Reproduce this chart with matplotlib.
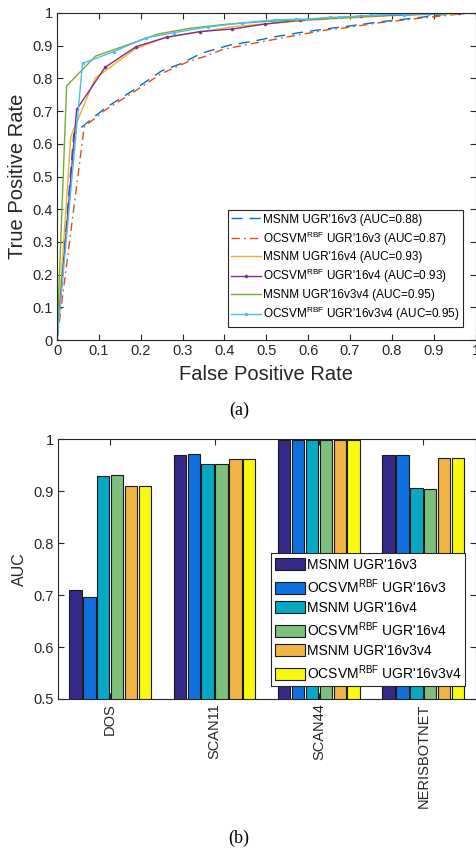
import numpy as np
import matplotlib
matplotlib.use("Agg")
import matplotlib.pyplot as plt

plt.rcParams['font.family'] = ['Liberation Sans', 'DejaVu Sans']
plt.rcParams['mathtext.default'] = 'regular'

# ---- ROC curves (a) ----
msnm_v3_fpr = [0, 0.04, 0.06, 0.115, 0.186, 0.25, 0.298, 0.345, 0.413, 0.461, 0.524, 0.58, 0.652, 0.691, 0.779, 0.858, 0.922, 1.0]
msnm_v3_tpr = [0, 0.63, 0.652, 0.709, 0.767, 0.823, 0.846, 0.877, 0.902, 0.912, 0.928, 0.94, 0.953, 0.959, 0.974, 0.985, 0.995, 1.0]

ocsvm_v3_fpr = [0, 0.065, 0.115, 0.178, 0.25, 0.313, 0.353, 0.397, 0.477, 0.556, 0.652, 0.675, 0.769, 0.874, 0.986, 1.0]
ocsvm_v3_tpr = [0, 0.652, 0.703, 0.754, 0.815, 0.851, 0.867, 0.889, 0.909, 0.928, 0.95, 0.952, 0.97, 0.985, 1.0, 1.0]

msnm_v4_fpr = [0, 0.033, 0.091, 0.186, 0.258, 0.42, 0.6, 0.8, 1.0]
msnm_v4_tpr = [0, 0.622, 0.80, 0.89, 0.925, 0.958, 0.978, 0.992, 1.0]

ocsvm_v4_fpr = [0, 0.047, 0.115, 0.189, 0.262, 0.341, 0.419, 0.496, 0.58, 0.727, 0.96, 1.0]
ocsvm_v4_tpr = [0, 0.705, 0.834, 0.897, 0.926, 0.943, 0.951, 0.966, 0.978, 0.99, 1.0, 1.0]

msnm_v3v4_fpr = [0, 0.023, 0.092, 0.242, 0.317, 0.40, 0.5, 0.675, 0.81, 1.0]
msnm_v3v4_tpr = [0, 0.777, 0.868, 0.936, 0.953, 0.965, 0.974, 0.985, 0.997, 1.0]

ocsvm_v3v4_fpr = [0, 0.061, 0.136, 0.212, 0.28, 0.36, 0.443, 0.52, 0.572, 0.597, 0.652, 0.675, 0.751, 0.828, 0.886, 1.0]
ocsvm_v3v4_tpr = [0, 0.846, 0.882, 0.924, 0.94, 0.957, 0.970, 0.979, 0.981, 0.981, 0.987, 0.987, 0.993, 0.995, 0.997, 1.0]

roc_labels = [
    "MSNM UGR'16v3 (AUC=0.88)",
    "OCSVM$^{RBF}$ UGR'16v3 (AUC=0.87)",
    "MSNM UGR'16v4 (AUC=0.93)",
    "OCSVM$^{RBF}$ UGR'16v4 (AUC=0.93)",
    "MSNM UGR'16v3v4 (AUC=0.95)",
    "OCSVM$^{RBF}$ UGR'16v3v4 (AUC=0.95)",
]

# ---- AUC bars (b) ----
attacks = ['DOS', 'SCAN11', 'SCAN44', 'NERISBOTNET']
bar_labels = [
    "MSNM UGR'16v3",
    "OCSVM$^{RBF}$ UGR'16v3",
    "MSNM UGR'16v4",
    "OCSVM$^{RBF}$ UGR'16v4",
    "MSNM UGR'16v3v4",
    "OCSVM$^{RBF}$ UGR'16v3v4",
]
auc_msnm_v3 = [0.709, 0.969, 0.999, 0.969]
auc_ocsvm_v3 = [0.696, 0.971, 0.999, 0.969]
auc_msnm_v4 = [0.930, 0.952, 0.998, 0.907]
auc_ocsvm_v4 = [0.931, 0.952, 0.998, 0.905]
auc_msnm_v3v4 = [0.911, 0.963, 0.999, 0.964]
auc_ocsvm_v3v4 = [0.911, 0.963, 0.998, 0.964]

axc = '#262626'
fig = plt.figure(figsize=(4.76, 8.51), dpi=100)

# ROC panel
ax1 = fig.add_axes([57/476, 1-340/851, 418.5/476, 327/851])
ax1.plot(msnm_v3_fpr, msnm_v3_tpr, color='#0072BD', lw=1.0, ls=(0, (8, 5)), label=roc_labels[0])
ax1.plot(ocsvm_v3_fpr, ocsvm_v3_tpr, color='#D95319', lw=1.0, ls=(0, (6, 3, 1.2, 3)), label=roc_labels[1])
ax1.plot(msnm_v4_fpr, msnm_v4_tpr, color='#EDB120', lw=1.0, label=roc_labels[2])
ax1.plot(ocsvm_v4_fpr, ocsvm_v4_tpr, color='#7E2F8E', lw=1.0, marker='.', ms=3, label=roc_labels[3])
ax1.plot(msnm_v3v4_fpr, msnm_v3v4_tpr, color='#77AC30', lw=1.0, label=roc_labels[4])
ax1.plot(ocsvm_v3v4_fpr, ocsvm_v3v4_tpr, color='#4DBEEE', lw=1.0, marker='.', ms=3, label=roc_labels[5])
ax1.set_xlim(0, 1)
ax1.set_ylim(0, 1)
ticks = np.round(np.arange(0, 1.01, 0.1), 1)
tick_text = ['0'] + ['%.1f' % t for t in ticks[1:-1]] + ['1']
ax1.set_xticks(ticks)
ax1.set_xticklabels(tick_text)
ax1.set_yticks(ticks)
ax1.set_yticklabels(tick_text)
ax1.set_xlabel('False Positive Rate', fontsize=14.5, color=axc, labelpad=5)
ax1.set_ylabel('True Positive Rate', fontsize=14.5, color=axc, labelpad=4)
leg1 = ax1.legend(loc='lower right', bbox_to_anchor=(0.969, 0.041), borderaxespad=0,
                  fontsize=8.5, handlelength=2.5, handletextpad=0.15, labelspacing=0.32,
                  borderpad=0.3, fancybox=False, framealpha=1, edgecolor=axc)
leg1.get_frame().set_linewidth(0.8)

# AUC bars panel
ax2 = fig.add_axes([58/476, 1-699/851, 417.5/476, 259.7/851])
series = [auc_msnm_v3, auc_ocsvm_v3, auc_msnm_v4, auc_ocsvm_v4, auc_msnm_v3v4, auc_ocsvm_v3v4]
colors = ['#352A87', '#0F6FDE', '#07A8C3', '#7DBF7C', '#F0B545', '#F9F90F']
x = np.arange(1, len(attacks) + 1)
step = 0.133
width = 0.118
for i, vals in enumerate(series):
    ax2.bar(x + (i - 2.5) * step, vals, width=width, color=colors[i],
            edgecolor='#1a1a1a', linewidth=0.8, label=bar_labels[i])
ax2.set_xlim(0.5, 4.5)
ax2.set_ylim(0.5, 1)
ax2.set_yticks([0.5, 0.6, 0.7, 0.8, 0.9, 1.0])
ax2.set_yticklabels(['0.5', '0.6', '0.7', '0.8', '0.9', '1'])
ax2.set_xticks(x)
ax2.set_xticklabels(attacks, rotation=90)
ax2.set_ylabel('AUC', fontsize=11.5, color=axc, labelpad=5)
leg2 = ax2.legend(loc='lower right', bbox_to_anchor=(0.976, 0.05), borderaxespad=0,
                  fontsize=10, handlelength=2.15, handleheight=1.0, handletextpad=0.15,
                  labelspacing=0.38, borderpad=0.3, fancybox=False, framealpha=1, edgecolor=axc)
leg2.get_frame().set_linewidth(0.8)

for ax in (ax1, ax2):
    ax.tick_params(direction='in', length=4, width=0.8, top=True, right=True,
                   labelsize=10.5, colors=axc, pad=3)
    for s in ax.spines.values():
        s.set_color(axc)
        s.set_linewidth(0.8)

fig.text(239/476, 1-410/851, '(a)', ha='center', va='center', fontsize=13, family='Liberation Serif')
fig.text(239/476, 1-838/851, '(b)', ha='center', va='center', fontsize=13, family='Liberation Serif')

fig.savefig('out.png', dpi=100)
